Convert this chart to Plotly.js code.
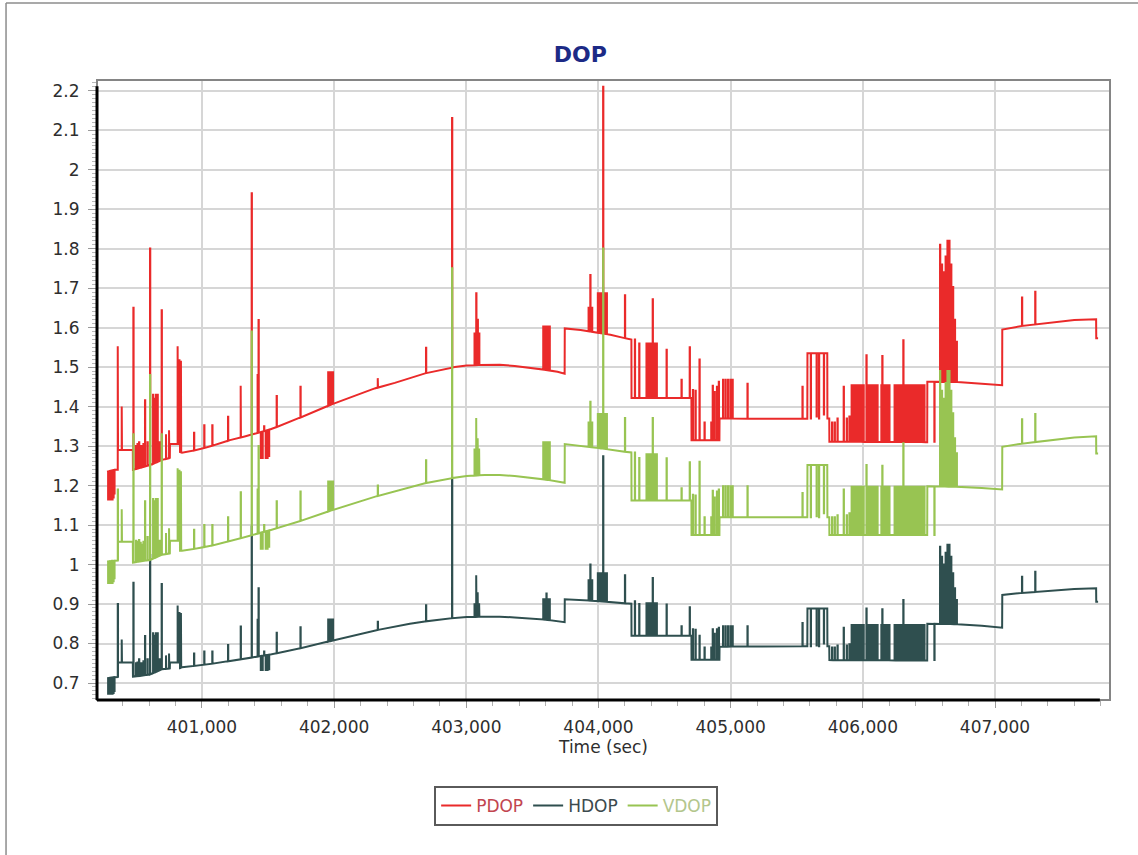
<!DOCTYPE html>
<html><head><meta charset="utf-8">
<script src="https://cdn.plot.ly/plotly-3.0.1.min.js"></script>
<style>html,body{margin:0;padding:0;background:#fff}#chart{width:1138px;height:855px}</style>
</head><body><div id="chart"></div>
<script>
// ---------------- DATA ----------------
const seriesNames = ['PDOP', 'HDOP', 'VDOP'];
const xTickVals = [401000, 402000, 403000, 404000, 405000, 406000, 407000];
const xTickText = ['401,000', '402,000', '403,000', '404,000', '405,000', '406,000', '407,000'];
const yTickVals = [0.7, 0.8, 0.9, 1.0, 1.1, 1.2, 1.3, 1.4, 1.5, 1.6, 1.7, 1.8, 1.9, 2.0, 2.1, 2.2];
const yTickText = ['0.7', '0.8', '0.9', '1', '1.1', '1.2', '1.3', '1.4', '1.5', '1.6', '1.7', '1.8', '1.9', '2', '2.1', '2.2'];

// baseline readings (time in sec)
const tBase = [
  400282, 400342, 400364, 400365, 400477, 400478, 400531, 400607, 400698, 400757, 400758, 400833, 400834, 400849,
  400985, 401100, 401212, 401330, 401438, 401514, 401627, 401741, 401855, 401968,
  402081, 402194, 402307, 402459, 402573, 402686, 402800, 402913, 403003, 403140,
  403253, 403366, 403479, 403578, 403690, 403744, 403745, 403865, 403978, 404090,
  404190, 404249, 404250, 404703, 404704, 404915, 404916, 405300, 405580, 405581,
  405731, 405732, 405746, 405747, 406487, 406488, 406715, 406900, 407054, 407055,
  407200, 407400, 407600, 407765, 407766, 407780
];
const pdopBase = [
  1.235, 1.240, 1.240, 1.290, 1.290, 1.240, 1.245, 1.252, 1.265, 1.270, 1.305, 1.305, 1.285, 1.283,
  1.292, 1.303, 1.315, 1.325, 1.335, 1.342, 1.356, 1.372, 1.388, 1.404,
  1.418, 1.433, 1.446, 1.460, 1.472, 1.484, 1.493, 1.500, 1.504, 1.506,
  1.506, 1.503, 1.499, 1.494, 1.488, 1.483, 1.598, 1.594, 1.588, 1.582,
  1.574, 1.570, 1.422, 1.422, 1.315, 1.315, 1.370, 1.369, 1.369, 1.535,
  1.535, 1.370, 1.370, 1.311, 1.310, 1.463, 1.462, 1.458, 1.454, 1.595,
  1.604, 1.612, 1.619, 1.621, 1.573, 1.573
];
const hdopBase = [
  0.712, 0.715, 0.715, 0.752, 0.752, 0.716, 0.718, 0.722, 0.735, 0.737, 0.752, 0.752, 0.738, 0.740,
  0.745, 0.750, 0.756, 0.762, 0.768, 0.772, 0.780, 0.788, 0.797, 0.806,
  0.815, 0.824, 0.833, 0.843, 0.850, 0.856, 0.861, 0.865, 0.867, 0.868,
  0.868, 0.866, 0.864, 0.861, 0.857, 0.854, 0.912, 0.910, 0.908, 0.905,
  0.902, 0.901, 0.820, 0.820, 0.759, 0.759, 0.792, 0.793, 0.793, 0.889,
  0.889, 0.793, 0.793, 0.758, 0.757, 0.850, 0.849, 0.845, 0.840, 0.923,
  0.928, 0.933, 0.938, 0.940, 0.906, 0.906
];
const vdopBase = [
  1.008, 1.010, 1.010, 1.058, 1.058, 1.005, 1.008, 1.012, 1.025, 1.028, 1.060, 1.060, 1.035, 1.035,
  1.042, 1.050, 1.060, 1.070, 1.080, 1.087, 1.098, 1.110, 1.123, 1.136,
  1.148, 1.160, 1.172, 1.185, 1.196, 1.206, 1.214, 1.220, 1.224, 1.227,
  1.227, 1.224, 1.220, 1.216, 1.211, 1.207, 1.305, 1.300, 1.296, 1.291,
  1.286, 1.284, 1.162, 1.162, 1.075, 1.075, 1.120, 1.120, 1.120, 1.252,
  1.252, 1.120, 1.120, 1.075, 1.075, 1.198, 1.197, 1.194, 1.190, 1.298,
  1.306, 1.314, 1.322, 1.325, 1.281, 1.281
];

// one-sample spikes / dips (time in sec)
const tSpike = [
  400290, 400298, 400306, 400314, 400322, 400330, 400337,
  400363, 400393, 400481, 400501, 400512, 400524, 400535, 400546, 400557, 400569, 400588, 400607,
  400630, 400641, 400652, 400664, 400679, 400695, 400728, 400751, 400816, 400830, 400841,
  400940, 401017, 401078, 401197, 401293, 401376, 401421, 401428,
  401445, 401458, 401470, 401482, 401495, 401507, 401565, 401745,
  401955, 401965, 401978, 401990, 402330, 402695, 402892,
  403062, 403075, 403086, 403097,
  403582, 403594, 403606, 403618, 403630,
  403925, 403938, 403951, 403995, 404010, 404021, 404035, 404048, 404062, 404200,
  404275, 404308, 404363, 404380, 404395, 404410, 404425, 404440, 404515, 404628, 404690,
  404714, 404734, 404764, 404802, 404853, 404864, 404878, 404896, 404910,
  404942, 404961, 404980, 404999, 405014, 405127, 405543,
  405606, 405650, 405668, 405705,
  405767, 405787, 405808, 405855, 405878, 405898,
  405915, 405930, 405945, 405960, 405975, 405990, 406005, 406027, 406035, 406050, 406065, 406080, 406095, 406110,
  406140, 406147, 406155, 406170, 406185, 406200,
  406240, 406255, 406270, 406285, 406300, 406306, 406315, 406330, 406345, 406360, 406375, 406390, 406405, 406420, 406435, 406450, 406465,
  406541,
  406584, 406598, 406612, 406626, 406640, 406654, 406668, 406682, 406696, 406710,
  407204, 407304
];
const pdopSpike = [
  1.165, 1.170, 1.165, 1.168, 1.165, 1.170, 1.180,
  1.553, 1.400, 1.650, 1.300, 1.305, 1.310, 1.300, 1.300, 1.305, 1.416, 1.310, 1.800,
  1.430, 1.420, 1.430, 1.430, 1.310, 1.644, 1.330, 1.340, 1.553, 1.520, 1.516,
  1.334, 1.353, 1.353, 1.374, 1.453, 1.940, 1.480, 1.619,
  1.270, 1.270, 1.350, 1.270, 1.270, 1.275, 1.427, 1.450,
  1.487, 1.487, 1.487, 1.487, 1.472, 1.549, 2.131,
  1.585, 1.687, 1.620, 1.585,
  1.603, 1.603, 1.603, 1.603, 1.603,
  1.650, 1.733, 1.650, 1.687, 1.687, 1.687, 2.210, 1.687, 1.687, 1.682,
  1.570, 1.560, 1.560, 1.560, 1.560, 1.672, 1.560, 1.560, 1.544, 1.468, 1.550,
  1.442, 1.440, 1.519, 1.360, 1.360, 1.453, 1.437, 1.450, 1.463,
  1.468, 1.468, 1.468, 1.468, 1.468, 1.458, 1.450,
  1.370, 1.375, 1.370, 1.380,
  1.360, 1.360, 1.370, 1.450, 1.370, 1.375,
  1.454, 1.454, 1.454, 1.454, 1.454, 1.454, 1.454, 1.530, 1.454, 1.454, 1.454, 1.454, 1.454, 1.454,
  1.454, 1.528, 1.454, 1.454, 1.454, 1.454,
  1.454, 1.454, 1.454, 1.454, 1.454, 1.568, 1.454, 1.454, 1.454, 1.454, 1.454, 1.454, 1.454, 1.454, 1.454, 1.454, 1.454,
  1.311,
  1.810, 1.760, 1.740, 1.780, 1.820, 1.820, 1.760, 1.703, 1.620, 1.564,
  1.676, 1.691
];
const hdopSpike = [
  0.673, 0.675, 0.673, 0.674, 0.673, 0.675, 0.680,
  0.900, 0.810, 0.954, 0.750, 0.752, 0.760, 0.750, 0.750, 0.755, 0.819, 0.760, 1.024,
  0.826, 0.820, 0.826, 0.826, 0.760, 0.951, 0.770, 0.775, 0.896, 0.880, 0.877,
  0.775, 0.780, 0.780, 0.796, 0.843, 1.096, 0.860, 0.940,
  0.733, 0.733, 0.780, 0.733, 0.733, 0.735, 0.827, 0.841,
  0.861, 0.861, 0.861, 0.861, 0.855, 0.897, 1.214,
  0.902, 0.973, 0.930, 0.902,
  0.912, 0.912, 0.927, 0.912, 0.912,
  0.960, 1.000, 0.960, 0.978, 0.978, 0.978, 1.274, 0.978, 0.978, 0.973,
  0.907, 0.900, 0.902, 0.902, 0.902, 0.966, 0.902, 0.902, 0.899, 0.844, 0.892,
  0.836, 0.835, 0.820, 0.790, 0.790, 0.836, 0.825, 0.836, 0.840,
  0.844, 0.844, 0.844, 0.844, 0.844, 0.844, 0.852,
  0.793, 0.795, 0.793, 0.800,
  0.790, 0.790, 0.795, 0.840, 0.795, 0.798,
  0.847, 0.847, 0.847, 0.847, 0.847, 0.847, 0.847, 0.889, 0.847, 0.847, 0.847, 0.847, 0.847, 0.847,
  0.847, 0.887, 0.847, 0.847, 0.847, 0.847,
  0.847, 0.847, 0.847, 0.847, 0.847, 0.910, 0.847, 0.847, 0.847, 0.847, 0.847, 0.847, 0.847, 0.847, 0.847, 0.847, 0.847,
  0.758,
  1.045, 1.020, 1.000, 1.030, 1.050, 1.050, 1.020, 0.978, 0.940, 0.910,
  0.969, 0.982
];
const vdopSpike = [
  0.953, 0.955, 0.953, 0.955, 0.953, 0.958, 0.965,
  1.190, 1.140, 1.330, 1.060, 1.058, 1.062, 1.055, 1.050, 1.058, 1.160, 1.070, 1.480,
  1.166, 1.160, 1.166, 1.166, 1.060, 1.330, 1.080, 1.092, 1.244, 1.240, 1.236,
  1.088, 1.100, 1.100, 1.120, 1.183, 1.590, 1.190, 1.300,
  1.040, 1.040, 1.100, 1.040, 1.040, 1.045, 1.160, 1.185,
  1.210, 1.210, 1.210, 1.210, 1.200, 1.264, 1.750,
  1.294, 1.371, 1.320, 1.294,
  1.310, 1.310, 1.310, 1.310, 1.310,
  1.360, 1.412, 1.360, 1.381, 1.381, 1.381, 1.800, 1.381, 1.381, 1.371,
  1.284, 1.270, 1.279, 1.279, 1.279, 1.371, 1.279, 1.279, 1.269, 1.193, 1.259,
  1.177, 1.175, 1.260, 1.120, 1.120, 1.187, 1.170, 1.185, 1.190,
  1.198, 1.198, 1.198, 1.198, 1.198, 1.198, 1.181,
  1.120, 1.122, 1.120, 1.130,
  1.120, 1.120, 1.125, 1.190, 1.125, 1.130,
  1.197, 1.197, 1.197, 1.197, 1.197, 1.197, 1.197, 1.252, 1.197, 1.197, 1.197, 1.197, 1.197, 1.197,
  1.197, 1.250, 1.197, 1.197, 1.197, 1.197,
  1.197, 1.197, 1.197, 1.197, 1.197, 1.307, 1.197, 1.197, 1.197, 1.197, 1.197, 1.197, 1.197, 1.197, 1.197, 1.197, 1.197,
  1.075,
  1.490, 1.440, 1.420, 1.460, 1.490, 1.490, 1.440, 1.383, 1.320, 1.282,
  1.368, 1.381
];

// ---------------- BUILD ----------------
const SPIKE_W = 2; // seconds, width of a one-sample spike

function baseAt(tb, vb, t) {
  for (let i = 0; i < tb.length - 1; i++) {
    if (t >= tb[i] && t < tb[i + 1]) {
      return vb[i] + (vb[i + 1] - vb[i]) * (t - tb[i]) / (tb[i + 1] - tb[i]);
    }
  }
  return vb[vb.length - 1];
}

function buildSeries(tb, vb, ts, vs) {
  const ev = [];
  tb.forEach((t, i) => ev.push({ t: t, v: vb[i], s: 0 }));
  ts.forEach((t, i) => ev.push({ t: t, v: vs[i], s: 1 }));
  ev.sort((a, b) => (a.t - b.t) || (a.s - b.s));
  const x = [], y = [];
  ev.forEach(e => {
    if (!e.s) { x.push(e.t); y.push(e.v); }
    else {
      const foot = baseAt(tb, vb, e.t);
      x.push(e.t, e.t, e.t + SPIKE_W, e.t + SPIKE_W);
      y.push(foot, e.v, e.v, foot);
    }
  });
  return { x: x, y: y };
}

const lineColors = ['#ea2a2a', '#2f4f4f', '#98c452'];
const legendTextColors = ['#c2454f', '#3c4a4e', '#b3c68c'];
const series = [
  buildSeries(tBase, pdopBase, tSpike, pdopSpike),
  buildSeries(tBase, hdopBase, tSpike, hdopSpike),
  buildSeries(tBase, vdopBase, tSpike, vdopSpike)
];

const traces = series.map((s, i) => ({
  type: 'scatter', mode: 'lines', x: s.x, y: s.y,
  name: '<span style="color:' + legendTextColors[i] + '">' + seriesNames[i] + '</span>',
  line: { color: lineColors[i], width: 2, shape: 'linear' },
  hoverinfo: 'x+y'
}));

const FONT = '"DejaVu Sans", Verdana, sans-serif';
const layout = {
  width: 1138, height: 855,
  margin: { l: 97, r: 28, t: 80, b: 155 },
  paper_bgcolor: '#ffffff', plot_bgcolor: '#ffffff',
  font: { family: FONT, size: 17, color: '#2e2e2e' },
  title: {
    text: '<b>DOP</b>', font: { family: FONT, size: 22, color: '#1c2a86' },
    xref: 'container', x: 0.51, xanchor: 'center',
    yref: 'container', y: 0.937, yanchor: 'middle'
  },
  xaxis: {
    range: [400206, 407870], tickmode: 'array', tickvals: xTickVals, ticktext: xTickText,
    showgrid: true, gridcolor: '#d6d6d6', gridwidth: 2, zeroline: false, showline: false,
    ticks: 'outside', ticklen: 7, tickwidth: 1, tickcolor: '#9a9a9a',
    minor: { tickmode: 'linear', tick0: 400000, dtick: 200, ticks: 'outside', ticklen: 5, tickcolor: '#b0b0b0', showgrid: false },
    tickfont: { family: FONT, size: 17, color: '#2e2e2e' },
    ticklabelstandoff: 5,
    title: { text: 'Time (sec)', font: { family: FONT, size: 17, color: '#2e2e2e' }, standoff: 1 },
    automargin: false
  },
  yaxis: {
    range: [0.657, 2.227], tickmode: 'array', tickvals: yTickVals, ticktext: yTickText,
    showgrid: true, gridcolor: '#d6d6d6', gridwidth: 2, zeroline: false, showline: false,
    ticks: 'outside', ticklen: 8, tickwidth: 1, tickcolor: '#9a9a9a',
    minor: { tickmode: 'linear', tick0: 0, dtick: 0.01, ticks: 'outside', ticklen: 4, tickcolor: '#b8b8b8', showgrid: false },
    tickfont: { family: FONT, size: 17, color: '#2e2e2e' },
    ticklabelstandoff: 5,
    automargin: false
  },
  showlegend: true,
  legend: {
    orientation: 'h', x: 0.473, xanchor: 'center', y: -0.171, yanchor: 'middle',
    bgcolor: '#ffffff', bordercolor: '#5a5a5a', borderwidth: 2,
    font: { family: FONT, size: 17 }, itemwidth: 30, itemclick: false
  },
  shapes: [
    { type: 'rect', xref: 'paper', yref: 'paper', x0: 0, x1: 1, y0: 0, y1: 1, line: { color: '#858585', width: 2 }, layer: 'above' },
    { type: 'line', xref: 'paper', yref: 'paper', x0: 0, x1: 0, y0: 0, y1: 0.99, line: { color: '#000000', width: 3 }, layer: 'above' },
    { type: 'line', xref: 'paper', yref: 'paper', x0: 0, x1: 0.99, y0: 0, y1: 0, line: { color: '#000000', width: 3 }, layer: 'above' },
    { type: 'line', xref: 'paper', yref: 'paper', x0: -0.0898, x1: -0.0898, y0: -0.27, y1: 1.124, line: { color: '#8c8c8c', width: 1.5 } },
    { type: 'line', xref: 'paper', yref: 'paper', x0: -0.0898, x1: 1.03, y0: 1.124, y1: 1.124, line: { color: '#8c8c8c', width: 1.5 } }
  ]
};

Plotly.newPlot('chart', traces, layout, { displayModeBar: false, staticPlot: true });
</script>
</body></html>
